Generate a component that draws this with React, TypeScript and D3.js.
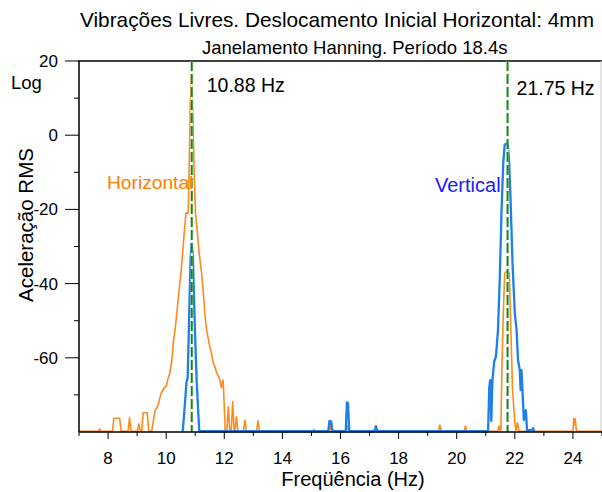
import React from "react";
import * as d3 from "d3";

const titleText = "Vibrações Livres. Deslocamento Inicial Horizontal: 4mm";
const subtitleText = "Janelamento Hanning. Período 18.4s";
const xLabel = "Freqüência (Hz)";
const yLabel = "Aceleração RMS";

const xMajorTicks = [8, 10, 12, 14, 16, 18, 20, 22, 24];
const xMinorTicks = [7, 9, 11, 13, 15, 17, 19, 21, 23, 25];
const yMajorTicks = [-60, -40, -20, 0, 20];
const yMinorTicks = [-70, -50, -30, -10, 10];

const peakFreqs = [10.88, 21.75];
const peakLabels = ["10.88 Hz", "21.75 Hz"];

const horizFreq = [
  7.0, 7.66, 7.71, 7.76, 8.15, 8.2, 8.4, 8.45, 8.69, 8.74, 8.79, 9.01, 9.06, 9.11, 9.16, 9.21, 9.35, 9.4,
  9.5, 9.55, 9.62, 9.67, 9.72, 9.78, 9.83, 9.89, 9.94, 10.0, 10.05, 10.12, 10.19, 10.25, 10.3, 10.36,
  10.41, 10.46, 10.51, 10.57, 10.62, 10.68, 10.76, 10.8, 10.83, 10.87, 10.92, 10.97, 11.01, 11.07,
  11.12, 11.17, 11.22, 11.28, 11.33, 11.39, 11.44, 11.49, 11.55, 11.62, 11.68, 11.74, 11.8, 11.85,
  11.9, 11.96, 12.0, 12.03, 12.09, 12.14, 12.19, 12.24, 12.29, 12.34, 12.37, 12.42, 12.47, 12.66,
  12.71, 12.76, 13.11, 13.16, 13.21, 15.03, 15.08, 15.13, 15.63, 15.68, 15.73, 16.19, 16.24, 16.29,
  19.37, 19.42, 19.47, 20.25, 20.3, 20.35, 21.41, 21.46, 21.5, 21.52, 21.56, 21.6, 21.65, 21.7, 21.76,
  21.81, 21.85, 21.89, 21.92, 21.97, 22.0, 22.04, 22.09, 22.14, 24.0, 24.03, 24.055, 24.08, 24.12, 25.0,
];
const horizAcc = [
  -79.8, -79.8, -79.2, -79.8, -79.8, -76.3, -76.3, -79.8, -79.8, -76.1, -79.8, -79.8, -77.8, -79.8,
  -79.8, -74.8, -74.8, -79.8, -79.8, -77.5, -74.1, -73.5, -72.9, -70.8, -69.5, -68.6, -68.0, -67.7,
  -66.0, -64.2, -61.0, -55.5, -53.0, -48.5, -44.5, -40.5, -37.2, -31.5, -26.5, -21.0, -21.0, -5.0,
  8.0, 16.5, 5.0, -12.0, -21.0, -26.0, -30.5, -34.0, -37.2, -42.5, -48.0, -52.5, -54.5, -56.5, -58.5,
  -61.4, -62.5, -64.1, -65.0, -66.0, -68.0, -66.0, -73.2, -79.6, -79.6, -73.2, -79.6, -79.6, -71.8,
  -79.6, -79.6, -75.9, -79.8, -79.8, -76.8, -79.8, -79.8, -77.0, -79.8, -79.8, -79.3, -79.8, -79.8,
  -77.3, -79.8, -79.8, -78.5, -79.8, -79.8, -78.1, -79.8, -79.8, -78.4, -79.8, -79.8, -78.4, -79.8,
  -79.0, -61.4, -48.9, -37.2, -36.8, -36.8, -37.2, -48.9, -60.0, -68.6, -74.0, -77.5, -79.6, -77.5,
  -79.8, -79.8, -76.3, -78.0, -76.5, -79.8, -79.8,
];

const vertFreq = [
  10.57, 10.65, 10.7, 10.74, 10.78, 10.84, 10.88, 10.92, 10.99, 11.05, 11.1, 11.14, 15.58, 15.62,
  15.68, 15.72, 16.18, 16.22, 16.26, 16.3, 17.17, 17.22, 17.27, 21.08, 21.12, 21.15, 21.19, 21.23,
  21.29, 21.35, 21.42, 21.48, 21.54, 21.6, 21.65, 21.71, 21.76, 21.8, 21.85, 21.92, 22.0, 22.06,
  22.11, 22.17, 22.2, 22.23, 22.27, 22.31, 22.38, 22.42, 22.58, 22.63, 22.66,
];
const vertAcc = [
  -79.8, -72.0, -66.4, -65.5, -52.5, -33.0, -29.0, -33.0, -52.5, -66.4, -74.0, -79.8, -79.8, -77.0,
  -77.2, -79.8, -79.8, -72.0, -72.3, -79.8, -79.8, -78.4, -79.8, -79.8, -68.0, -66.0, -77.0, -66.0,
  -61.0, -59.7, -52.5, -39.0, -21.0, -7.6, -2.6, -2.2, -2.6, -6.7, -16.6, -34.5, -48.0, -52.5, -60.6,
  -63.3, -68.7, -63.3, -70.0, -76.8, -74.1, -79.5, -79.5, -79.0, -79.8,
];

const W = 602;
const H = 492;
const left = 79;
const right = 602;
const top = 61;
const bottom = 432;
const FONT = "'Liberation Sans', Arial, Helvetica, sans-serif";

export default function App() {
  const x = d3.scaleLinear().domain([7, 25]).range([left, right]);
  const y = d3.scaleLinear().domain([-80, 20]).range([bottom, top]);
  const line = d3
    .line<[number, number]>()
    .x((d) => x(d[0]))
    .y((d) => y(d[1]));
  const horiz = horizFreq.map((f, i) => [f, horizAcc[i]] as [number, number]);
  const vert = vertFreq.map((f, i) => [f, vertAcc[i]] as [number, number]);

  return (
    <svg
      width={W}
      height={H}
      style={{ position: "absolute", left: 0, top: 0, background: "#fff" }}
      fontFamily={FONT}
    >
      <rect x={0} y={0} width={W} height={H} fill="#fff" />
      <text x={80} y={27} fontSize={20.8} fill="#000">
        {titleText}
      </text>
      <text x={202} y={54} fontSize={18.5} fill="#000">
        {subtitleText}
      </text>

      {/* frame */}
      <line x1={left - 1} x2={right} y1={top} y2={top} stroke="#000" strokeWidth={1.5} />
      <line x1={W - 1} x2={W - 1} y1={top} y2={bottom} stroke="#c8c8c8" strokeWidth={1} />

      {/* curves */}
      <path d={line(horiz) || ""} fill="none" stroke="#ff8a1c" strokeWidth={1.6} strokeLinejoin="round" />
      <path d={line(vert) || ""} fill="none" stroke="#1c80e8" strokeWidth={2.3} strokeLinejoin="round" />

      {/* peak markers */}
      {peakFreqs.map((f) => (
        <g key={f}>
          <line x1={x(f)} x2={x(f)} y1={top} y2={bottom} stroke="#fff" strokeWidth={2} />
          <line x1={x(f)} x2={x(f)} y1={top} y2={bottom} stroke="#118811" strokeWidth={2} strokeDasharray="10,3" />
        </g>
      ))}
      <text x={x(peakFreqs[0]) + 15} y={92} fontSize={19.5}>{peakLabels[0]}</text>
      <text x={x(peakFreqs[1]) + 9} y={95} fontSize={19.5}>{peakLabels[1]}</text>

      <text x={107} y={189} fontSize={19.2} fill="#ff8000">Horizontal</text>
      <text x={435} y={192} fontSize={20} fill="#1a1aff">Vertical</text>

      {/* axes */}
      <line x1={left} x2={left} y1={top} y2={bottom} stroke="#000" strokeWidth={1.5} />
      <line x1={left} x2={right} y1={bottom} y2={bottom} stroke="#000" strokeWidth={1.5} />
      {yMajorTicks.map((t) => (
        <g key={"ym" + t}>
          <line x1={left - 14} x2={left} y1={y(t)} y2={y(t)} stroke="#000" strokeWidth={1} />
          <text x={left - 21} y={y(t) + 6} fontSize={17} textAnchor="end">{t}</text>
        </g>
      ))}
      {yMinorTicks.map((t) => (
        <line key={"yn" + t} x1={left - 5} x2={left} y1={y(t)} y2={y(t)} stroke="#000" strokeWidth={1} />
      ))}
      {xMajorTicks.map((t) => (
        <g key={"xm" + t}>
          <line x1={x(t)} x2={x(t)} y1={bottom} y2={bottom + 7} stroke="#000" strokeWidth={1} />
          <text x={x(t)} y={464} fontSize={17} textAnchor="middle">{t}</text>
        </g>
      ))}
      {xMinorTicks.map((t) => (
        <line key={"xn" + t} x1={x(t)} x2={x(t)} y1={bottom} y2={bottom + 4} stroke="#000" strokeWidth={1} />
      ))}

      <text x={11} y={89} fontSize={18.5}>Log</text>
      <text
        transform={`translate(33,${225}) rotate(-90)`}
        fontSize={20.5}
        textAnchor="middle"
      >
        {yLabel}
      </text>
      <text x={353} y={486} fontSize={20} textAnchor="middle">{xLabel}</text>
    </svg>
  );
}
